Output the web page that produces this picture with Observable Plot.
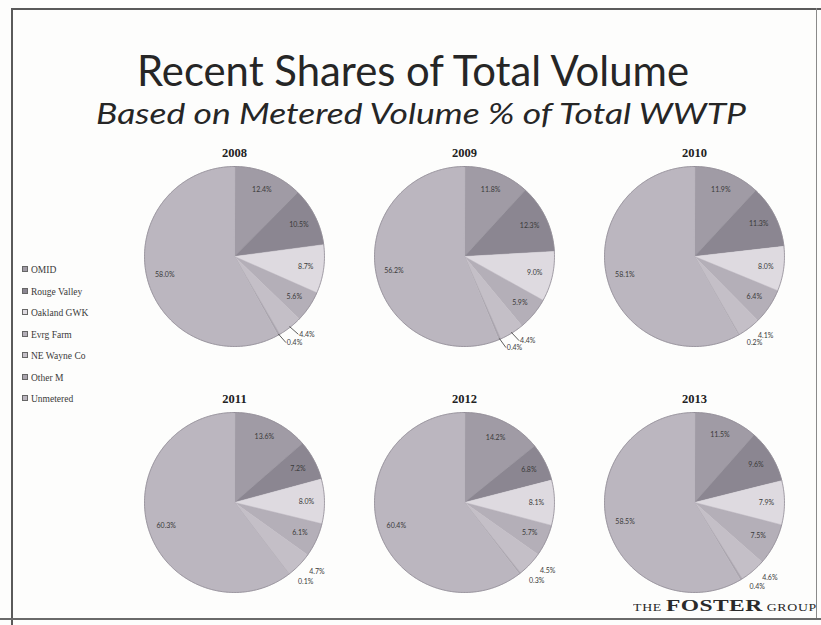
<!DOCTYPE html>
<html>
<head>
<meta charset="utf-8">
<script src="https://cdn.jsdelivr.net/npm/d3@7"></script>
<script src="https://cdn.jsdelivr.net/npm/@observablehq/plot@0.6"></script>
<style>
  html, body { margin: 0; padding: 0; background: #ffffff; }
  #page { position: relative; width: 821px; height: 625px; overflow: hidden; background: #fdfdfc; }
  .line { position: absolute; background: #5a5a5a; }
  .txt { position: absolute; white-space: nowrap; line-height: 1; transform-origin: left top; }
  #title { font-family: Lato, "Open Sans", sans-serif; font-size: 43px; color: #262626; }
  #subtitle { font-family: Lato, "Open Sans", sans-serif; font-style: italic; font-size: 29px; color: #262626; }
  #legend .item { position: absolute; left: 22px; font-family: "Liberation Serif", serif; font-size: 9.5px; color: #3a3a3a; white-space: nowrap; line-height: 1; }
  #legend .sw { display: inline-block; width: 4px; height: 4px; margin-right: 3px; vertical-align: 1px; border: 0.5px solid #666; }
  #brand { font-family: "Liberation Serif", serif; color: #2a2a2a; }
  #brand .sm { font-size: 10px; letter-spacing: 0.5px; }
  #brand .big { font-size: 17px; font-weight: bold; letter-spacing: 0.3px; }
  #chart { position: absolute; left: 119px; top: 133px; }
</style>
</head>
<body>
<div id="page">
  <div class="line" style="left:11px; top:8px; width:810px; height:2px;"></div>
  <div class="line" style="left:11px; top:8px; width:2px; height:617px;"></div>
  <div class="line" style="left:816px; top:8px; width:1px; height:610px; background:#8a8a8a;"></div>
  <div class="line" style="left:0px; top:618px; width:821px; height:2px; background:#6a6a6a;"></div>
  <div id="title" class="txt">Recent Shares of Total Volume</div>
  <div id="subtitle" class="txt">Based on Metered Volume % of Total WWTP</div>
  <div id="legend"></div>
  <div id="chart"></div>
  <div id="brand" class="txt"><span class="sm">THE </span><span class="big">FOSTER</span><span class="sm"> GROUP</span></div>
</div>
<script>
// ---- data ----
const years = ["2008", "2009", "2010", "2011", "2012", "2013"];
const sources = ["OMID", "Rouge Valley", "Oakland GWK", "Evrg Farm", "NE Wayne Co", "Other M", "Unmetered"];
const share2008 = [12.4, 10.5, 8.7, 5.6, 4.4, 0.4, 58.0];
const share2009 = [11.8, 12.3, 9.0, 5.9, 4.4, 0.4, 56.2];
const share2010 = [11.9, 11.3, 8.0, 6.4, 4.1, 0.2, 58.1];
const share2011 = [13.6, 7.2, 8.0, 6.1, 4.7, 0.1, 60.3];
const share2012 = [14.2, 6.8, 8.1, 5.7, 4.5, 0.3, 60.4];
const share2013 = [11.5, 9.6, 7.9, 7.5, 4.6, 0.4, 58.5];
const shares = [share2008, share2009, share2010, share2011, share2012, share2013];
const palette = ["#a09ba5", "#8b8691", "#dedae0", "#b4afb8", "#c4bfc7", "#aaa5ae", "#bbb6bf"];
const outsideSlices = ["NE Wayne Co", "Other M"];
const leaderYears = ["2008", "2009"];

// ---- build pie geometry from the values ----
const slicePts = [], labels = [], leaders = [], yearLabels = [], rims = [];
years.forEach((yr, i) => {
  const col = i % 3, row = Math.floor(i / 3);
  yearLabels.push({year: yr, col, row, x: 0, y: 1.15});
  let cum = 0;
  shares[i].forEach((v, k) => {
    const a0 = cum / 100 * 2 * Math.PI;
    cum += v;
    const a1 = cum / 100 * 2 * Math.PI;
    const key = yr + "-" + k;
    const src = sources[k];
    slicePts.push({key, source: src, col, row, x: 0, y: 0});
    const n = Math.max(2, Math.ceil((a1 - a0) / (Math.PI / 180)));
    for (let j = 0; j <= n; j++) {
      const a = a0 + (a1 - a0) * j / n;
      const p = {key, source: src, col, row, x: Math.sin(a), y: Math.cos(a)};
      slicePts.push(p);
      rims.push({...p, key: yr});
    }
    const am = (a0 + a1) / 2;
    const txt = v.toFixed(1) + "%";
    if (outsideSlices.includes(src)) {
      const r = 1.1;
      labels.push({col, row, x: Math.sin(am) * r + 0.04, y: Math.cos(am) * r, text: txt, anchor: "start"});
      if (leaderYears.includes(yr)) {
        leaders.push({col, row, x1: Math.sin(am) * 0.99, y1: Math.cos(am) * 0.99, x2: Math.sin(am) * r + 0.03, y2: Math.cos(am) * r});
      }
    } else {
      const r = 0.8;
      labels.push({col, row, x: Math.sin(am) * r, y: Math.cos(am) * r, text: txt, anchor: "middle"});
    }
  });
});

const chart = Plot.plot({
  width: 690,
  height: 492,
  margin: 0,
  style: {background: "transparent", overflow: "visible"},
  fx: {domain: [0, 1, 2], padding: 0, axis: null},
  fy: {domain: [0, 1], padding: 0, axis: null},
  x: {domain: [-1.278, 1.278], axis: null},
  y: {domain: [-1.367, 1.367], axis: null},
  color: {domain: sources, range: palette},
  marks: [
    Plot.line(slicePts, {x: "x", y: "y", z: "key", fx: "col", fy: "row", fill: "source", stroke: "source", strokeWidth: 0.5, curve: "linear-closed"}),
    Plot.line(rims, {x: "x", y: "y", z: "key", fx: "col", fy: "row", stroke: "#8f8a94", strokeWidth: 0.8}),
    Plot.link(leaders, {x1: "x1", y1: "y1", x2: "x2", y2: "y2", fx: "col", fy: "row", stroke: "#333", strokeWidth: 0.8}),
    Plot.text(labels.filter(d => d.anchor === "middle"), {x: "x", y: "y", text: "text", fx: "col", fy: "row", fontSize: 7, fill: "#3a3a3a", fontFamily: "Lato, sans-serif"}),
    Plot.text(labels.filter(d => d.anchor === "start"), {x: "x", y: "y", text: "text", fx: "col", fy: "row", fontSize: 7, fill: "#3a3a3a", textAnchor: "start", fontFamily: "Lato, sans-serif"}),
    Plot.text(yearLabels, {x: "x", y: "y", text: "year", fx: "col", fy: "row", fontSize: 12.5, fontWeight: "bold", fill: "#222", fontFamily: "'Liberation Serif', serif"})
  ]
});
document.getElementById("chart").appendChild(chart);

// ---- legend ----
const legend = document.getElementById("legend");
sources.forEach((s, k) => {
  const d = document.createElement("div");
  d.className = "item";
  d.style.top = (266 + k * 21.5) + "px";
  d.innerHTML = `<span class="sw" style="background:${palette[k]}"></span>${s}`;
  legend.appendChild(d);
});

// ---- position and fit text blocks ----
function place(id, left, top, width) {
  const el = document.getElementById(id);
  el.style.left = left + "px";
  el.style.top = top + "px";
  const w = el.getBoundingClientRect().width;
  if (width) el.style.transform = `scaleX(${width / w})`;
}
place("title", 137, 48, 552);
place("subtitle", 96, 98, 650);
place("brand", 633, 597, 184);
</script>
</body>
</html>
